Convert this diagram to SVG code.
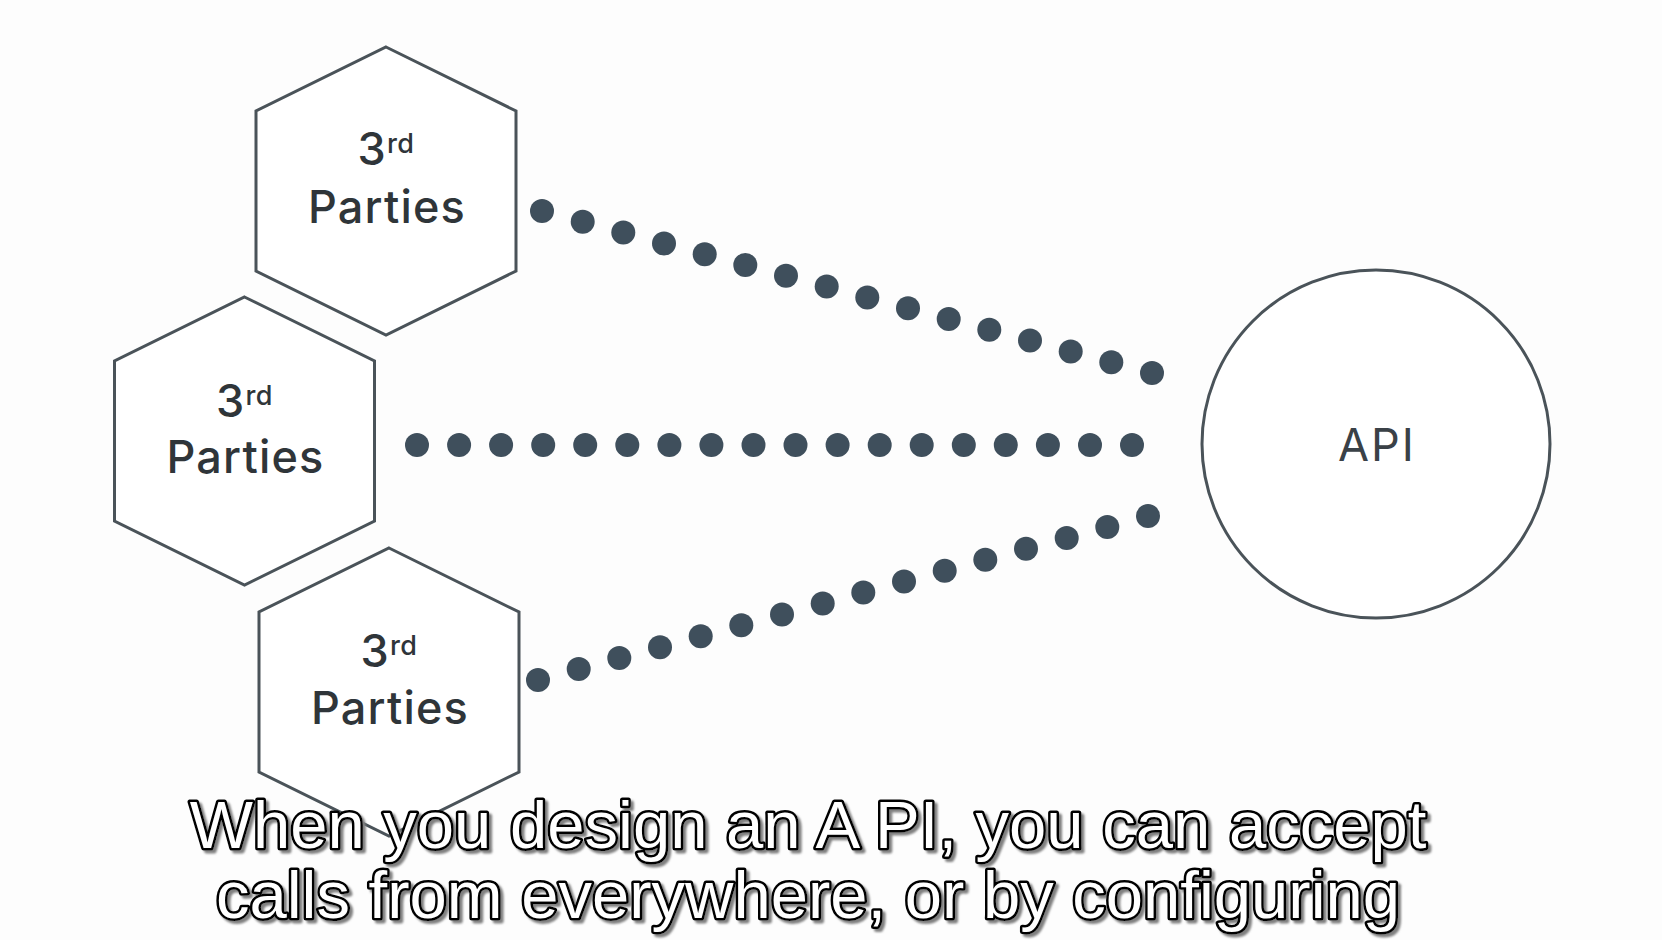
<svg xmlns="http://www.w3.org/2000/svg" width="1662" height="940" viewBox="0 0 1662 940">
<defs>
<filter id="capShadow" x="-5%" y="-30%" width="110%" height="160%">
<feDropShadow dx="3" dy="3" stdDeviation="0.8" flood-color="#808080" flood-opacity="1"/>
</filter>
</defs>
<style>
.hex{fill:#ffffff;stroke:#4a5359;stroke-width:3;stroke-linejoin:miter}
.circ{fill:#ffffff;stroke:#4a5359;stroke-width:3}
.lbl{font-family:Inter,"Liberation Sans",sans-serif;fill:#2f3539;text-anchor:middle}
.big{font-size:45px;letter-spacing:1.2px;font-weight:500}
.sup{font-size:27px;letter-spacing:0.5px;font-weight:500}
.api{font-size:45px;letter-spacing:2px;font-weight:400;fill:#3a4147}
.dot{fill:#3f4f5c}
.cap{font-family:"Liberation Sans",Arial,sans-serif;font-size:67px;text-anchor:middle;fill:#ffffff;stroke:#000000;stroke-width:5;stroke-linejoin:round;paint-order:stroke}
</style>
<rect x="0" y="0" width="1662" height="940" fill="#fdfdfd"/>
<g id="connectors">
<g id="dots-top">
<circle class="dot" cx="542" cy="211" r="12"/><circle class="dot" cx="582.7" cy="221.8" r="12"/><circle class="dot" cx="623.3" cy="232.6" r="12"/><circle class="dot" cx="664" cy="243.4" r="12"/><circle class="dot" cx="704.7" cy="254.2" r="12"/><circle class="dot" cx="745.3" cy="265" r="12"/><circle class="dot" cx="786" cy="275.8" r="12"/><circle class="dot" cx="826.7" cy="286.6" r="12"/><circle class="dot" cx="867.3" cy="297.4" r="12"/><circle class="dot" cx="908" cy="308.2" r="12"/><circle class="dot" cx="948.7" cy="319" r="12"/><circle class="dot" cx="989.3" cy="329.8" r="12"/><circle class="dot" cx="1030" cy="340.6" r="12"/><circle class="dot" cx="1070.7" cy="351.4" r="12"/><circle class="dot" cx="1111.3" cy="362.2" r="12"/><circle class="dot" cx="1152" cy="373" r="12"/>
</g>
<g id="dots-middle">
<circle class="dot" cx="417" cy="445" r="12"/><circle class="dot" cx="459.1" cy="445" r="12"/><circle class="dot" cx="501.1" cy="445" r="12"/><circle class="dot" cx="543.2" cy="445" r="12"/><circle class="dot" cx="585.2" cy="445" r="12"/><circle class="dot" cx="627.3" cy="445" r="12"/><circle class="dot" cx="669.4" cy="445" r="12"/><circle class="dot" cx="711.4" cy="445" r="12"/><circle class="dot" cx="753.5" cy="445" r="12"/><circle class="dot" cx="795.5" cy="445" r="12"/><circle class="dot" cx="837.6" cy="445" r="12"/><circle class="dot" cx="879.7" cy="445" r="12"/><circle class="dot" cx="921.7" cy="445" r="12"/><circle class="dot" cx="963.8" cy="445" r="12"/><circle class="dot" cx="1005.8" cy="445" r="12"/><circle class="dot" cx="1047.9" cy="445" r="12"/><circle class="dot" cx="1090" cy="445" r="12"/><circle class="dot" cx="1132" cy="445" r="12"/>
</g>
<g id="dots-bottom">
<circle class="dot" cx="538" cy="680" r="12"/><circle class="dot" cx="578.7" cy="669.1" r="12"/><circle class="dot" cx="619.3" cy="658.1" r="12"/><circle class="dot" cx="660" cy="647.2" r="12"/><circle class="dot" cx="700.7" cy="636.3" r="12"/><circle class="dot" cx="741.3" cy="625.3" r="12"/><circle class="dot" cx="782" cy="614.4" r="12"/><circle class="dot" cx="822.7" cy="603.5" r="12"/><circle class="dot" cx="863.3" cy="592.5" r="12"/><circle class="dot" cx="904" cy="581.6" r="12"/><circle class="dot" cx="944.7" cy="570.7" r="12"/><circle class="dot" cx="985.3" cy="559.7" r="12"/><circle class="dot" cx="1026" cy="548.8" r="12"/><circle class="dot" cx="1066.7" cy="537.9" r="12"/><circle class="dot" cx="1107.3" cy="526.9" r="12"/><circle class="dot" cx="1148" cy="516" r="12"/>
</g>
</g>
<g id="party-top">
<polygon class="hex" points="386,47 516,111 516,271 386,335 256,271 256,111"/>
<text class="lbl" x="386" y="165"><tspan class="big">3</tspan><tspan class="sup" dy="-12">rd</tspan></text>
<text class="lbl big" x="387" y="223">Parties</text>
</g>
<g id="party-middle">
<polygon class="hex" points="244.5,297 374.5,361 374.5,521 244.5,585 114.5,521 114.5,361"/>
<text class="lbl" x="244.5" y="417"><tspan class="big">3</tspan><tspan class="sup" dy="-12">rd</tspan></text>
<text class="lbl big" x="245.5" y="473">Parties</text>
</g>
<g id="party-bottom">
<polygon class="hex" points="389,548 519,612 519,772 389,836 259,772 259,612"/>
<text class="lbl" x="389" y="667"><tspan class="big">3</tspan><tspan class="sup" dy="-12">rd</tspan></text>
<text class="lbl big" x="390" y="724">Parties</text>
</g>
<g id="api">
<circle class="circ" cx="1376" cy="444" r="174"/>
<text class="lbl api" x="1377" y="461">API</text>
</g>
<g id="caption" filter="url(#capShadow)">
<text class="cap" x="808" y="848">When you design an A PI, you can accept</text>
<text class="cap" x="808" y="918">calls from everywhere, or by configuring</text>
</g>
</svg>
